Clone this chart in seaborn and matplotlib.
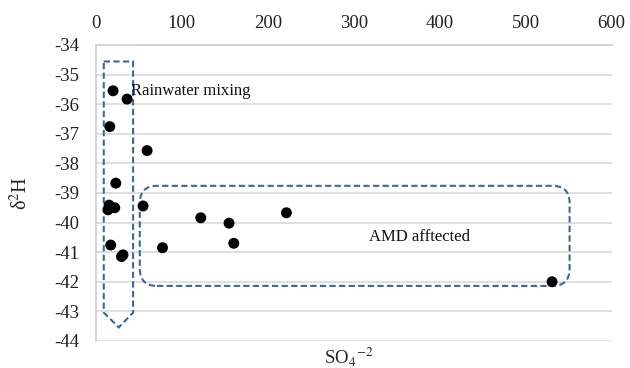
import matplotlib
matplotlib.use("Agg")
import matplotlib.pyplot as plt
import seaborn as sns
import pandas as pd
from matplotlib.patches import FancyBboxPatch, Polygon

# Data
so4 = [20.1, 36.4, 16.3, 59.7, 23.3, 15.5, 22.1, 14.3, 55.0, 17.4, 31.7, 29.9,
       77.6, 122.1, 155.0, 221.7, 160.5, 530.6]
d2h = [-35.55, -35.83, -36.76, -37.57, -38.67, -39.41, -39.50, -39.57, -39.44,
       -40.76, -41.09, -41.15, -40.85, -39.84, -40.02, -39.67, -40.70, -42.00]
x_ticks = [0, 100, 200, 300, 400, 500, 600]
y_ticks = [-44, -43, -42, -41, -40, -39, -38, -37, -36, -35, -34]
label_rain = "Rainwater mixing"
label_amd = "AMD afftected"

df = pd.DataFrame({"SO4": so4, "d2H": d2h})

sns.set_theme(style="white")
plt.rcParams["font.family"] = ["Liberation Serif", "DejaVu Serif"]
plt.rcParams["mathtext.fontset"] = "stix"

fig = plt.figure(figsize=(6.3, 3.68), dpi=100)
ax = fig.add_axes([0.152, 0.0734, 0.971 - 0.152, 0.878 - 0.0734])

sns.scatterplot(data=df, x="SO4", y="d2H", ax=ax, color="black", s=62,
                edgecolor="none", zorder=3, legend=False)

ax.set_xlim(0, 600)
ax.set_ylim(-44, -34)
ax.set_xticks(x_ticks)
ax.set_yticks(y_ticks)
ax.set_yticklabels([str(v) for v in y_ticks])
ax.xaxis.tick_top()
ax.tick_params(axis="x", length=0, pad=9, labelsize=13.5, colors="#222222")
ax.tick_params(axis="y", length=0, pad=12, labelsize=13.5, colors="#222222")
ax.grid(axis="y", color="#d9d9d9", linewidth=1.2, zorder=0)
ax.grid(axis="x", visible=False)
for s in ["right", "bottom"]:
    ax.spines[s].set_visible(False)
for s in ["left", "top"]:
    ax.spines[s].set_color("#d0d0d0")
    ax.spines[s].set_linewidth(1.2)

ax.set_xlabel("SO$_4$$^{\\mathrm{-2}}$", fontsize=13.5, labelpad=0)
ax.xaxis.set_label_position("bottom")
ax.xaxis.set_label_coords(0.49, -0.015)
ax.xaxis.label.set_va("top")
ax.set_ylabel("δ$^2$H", fontsize=14.5, labelpad=16)

dash_col = "#3b66a0"
# Down-pointing pentagon arrow (rainwater mixing)
arrow = Polygon([(9.3, -34.56), (43.4, -34.56), (43.4, -43.04), (26.7, -43.54),
                 (9.3, -43.04)], closed=True, fill=False, edgecolor=dash_col,
                linewidth=1.5, linestyle=(0, (3, 1.6)), zorder=2)
ax.add_patch(arrow)

# Rounded rectangle (AMD affected)
asp = 0.86 / 29.6
box = FancyBboxPatch((51.2, -42.14), 551 - 51.2, -38.76 - (-42.14),
                     boxstyle="round,pad=0,rounding_size=20",
                     mutation_aspect=asp, fill=False, edgecolor=dash_col,
                     linewidth=1.5, linestyle=(0, (3, 1.6)), zorder=2)
ax.add_patch(box)

ax.text(41, -35.55, label_rain, fontsize=12, va="center", ha="left", color="#111111")
ax.text(377, -40.5, label_amd, fontsize=12, va="center", ha="center", color="#111111")

fig.savefig("out.png", dpi=100)
